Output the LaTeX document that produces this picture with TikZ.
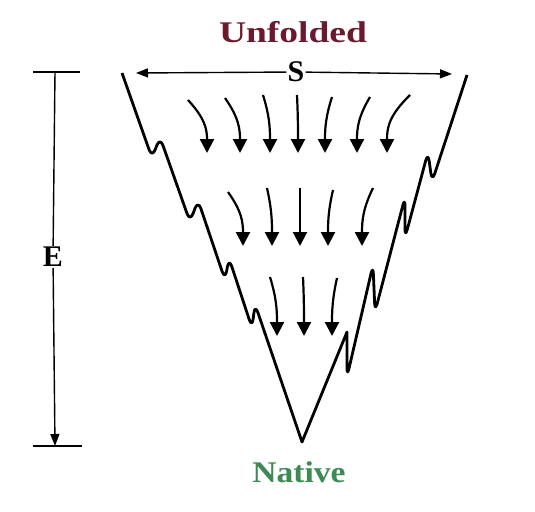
\documentclass[tikz,border=0pt]{standalone}
\usepackage{fontspec}
\setmainfont{Liberation Serif}
\usetikzlibrary{arrows.meta}
\definecolor{unfoldred}{HTML}{6B1A2E}
\definecolor{nativegreen}{HTML}{3D8A52}
\tikzset{
    wall/.style={line width=2.8pt, rounded corners=9pt, line join=round},
    fall/.style={line width=2.2pt, -{Triangle[width=14pt,length=14pt]}},
    axis/.style={line width=1.4pt},
    axis tip/.style={-{Triangle[width=9pt,length=12pt]}},
    label/.style={font=\bfseries\fontsize{30}{30}\selectfont, fill=white, inner sep=1pt},
    state/.style={font=\bfseries\fontsize{30}{30}\selectfont, anchor=base}
}

\begin{document}
\begin{tikzpicture}[x=1pt, y=-1pt]
\useasboundingbox[fill=white] (0,0) rectangle (535,511);

% funnel walls:
\draw [wall] (122,73) -- (152,158) -- (160,137) -- (190,222) -- (198,200)
  -- (225,280) -- (229,258) -- (252,328) -- (255,304) [sharp corners] -- (302,442)
  -- (347,332) [rounded corners=9pt] -- (347,377) -- (373,265) -- (375,312)
  -- (405,197) -- (405,238) -- (428,152) -- (432,182) -- (467,75);

% width S:
\coordinate (sleft) at (136,73);
\coordinate (sright) at (452,74);
\node [label] (s) at (296,72) {S};
\draw [axis, axis tip] (s) -- (sleft);
\draw [axis, axis tip] (s) -- (sright);

% energy E:
\coordinate (etop) at (55,72);
\coordinate (ebot) at (55,446);
\node [label] (e) at (53,257) {E};
\draw [axis] (e) -- (etop);
\draw [axis, axis tip] (e) -- (ebot);
\draw [axis] (33,72) -- (80,72);
\draw [axis] (33,446) -- (82,446);

% states:
\node [state, xscale=1.25, text=unfoldred] (unfolded) at (293,43) {Unfolded};
\node [state, xscale=1.12, text=nativegreen] (native) at (299,482) {Native};

% folding arrows, tail x/y / tip x/y:
\foreach \tx/\ty/\hx/\hy in {
  188/100/207/153, 225/98/240/153, 263/95/270/153, 297/95/298/153,
  332/97/325/153, 370/97/357/153, 410/95/387/153,
  228/192/243/246, 267/188/272/246, 300/188/300/246, 333/190/328/246,
  373/188/362/246,
  270/277/277/336, 303/277/304/336, 337/278/332/336} {
  \pgfmathsetmacro{\dx}{0.9*(\hx-\tx)}
  \pgfmathsetmacro{\dy}{0.35*(\hy-\ty)}
  \pgfmathsetmacro{\dz}{-0.45*(\hy-\ty)}
  \draw [fall] (\tx,\ty) .. controls +(\dx,\dy) and +(0,\dz) .. (\hx,\hy);
}

\end{tikzpicture}
\end{document}
